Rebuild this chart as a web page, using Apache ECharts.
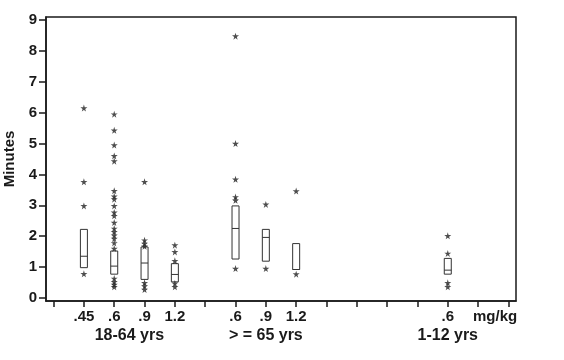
<!DOCTYPE html>
<html>
<head>
<meta charset="utf-8">
<script src="https://cdn.jsdelivr.net/npm/echarts@6/dist/echarts.min.js"></script>
<style>html,body{margin:0;padding:0;background:#fff}#c{width:564px;height:360px}</style>
</head>
<body>
<div id="c"></div>
<script>
// x tick labels at positions 0..15
const tickLabels = ['', '.45', '.6', '.9', '1.2', '', '.6', '.9', '1.2', '', '', '', '', '.6', 'mg/kg', ''];
const groupLabels = ['18-64 yrs', '> = 65 yrs', '1-12 yrs'];
const groupPos = [2.5, 7, 13];
const yTicks = [0,1,2,3,4,5,6,7,8,9];
// boxes
const boxPos = [1, 2, 3, 4, 6, 7, 8, 13];
const q1     = [0.98, 0.77, 0.60, 0.52, 1.26, 1.19, 0.92, 0.77];
const median = [1.35, 1.03, 1.13, 0.76, 2.25, 1.96, 0.92, 0.90];
const q3     = [2.22, 1.52, 1.65, 1.11, 2.98, 2.22, 1.76, 1.28];
// outliers per box
const outliers = [
  [6.15, 3.76, 2.98, 0.78],
  [5.95, 5.43, 4.95, 4.60, 4.43, 3.47, 3.29, 3.20, 2.98, 2.77, 2.66, 2.44, 2.25, 2.14, 2.03, 1.92, 1.78, 1.60, 0.63, 0.52, 0.43, 0.36],
  [3.76, 1.87, 1.76, 1.67, 0.49, 0.38, 0.27],
  [1.71, 1.49, 1.20, 0.47, 0.36],
  [8.48, 5.00, 3.84, 3.27, 3.16, 0.95],
  [3.03, 0.95],
  [3.46, 0.77],
  [2.01, 1.44, 0.49, 0.36]
];

const boxData = boxPos.map((p, i) => [p, q1[i], median[i], q3[i]]);
const starData = [];
boxPos.forEach((p, i) => outliers[i].forEach(v => starData.push([p, v])));

const FONT = 'Liberation Sans';
const INK = '#1a1a1a';
const star = 'path://M50,0 L61,35 L98,35 L68,57 L79,91 L50,70 L21,91 L32,57 L2,35 L39,35 Z';

const chart = echarts.init(document.getElementById('c'), null, {renderer: 'canvas'});
chart.setOption({
  animation: false,
  backgroundColor: '#fff',
  grid: {left: 46, right: 48, top: 17, bottom: 59, containLabel: false, outerBoundsMode: 'none',
    show: true, borderColor: INK, borderWidth: 1.5, backgroundColor: 'transparent'},
  xAxis: [{
    type: 'value', min: -0.25, max: 15.25,
    splitLine: {show: false},
    axisLine: {show: true, onZero: false, lineStyle: {color: INK, width: 1.5}},
    axisTick: {show: true, length: 6, customValues: tickLabels.map((_, i) => i), lineStyle: {color: INK, width: 1.5}},
    axisLabel: {
      customValues: tickLabels.map((_, i) => i).filter(i => tickLabels[i] !== ''),
      formatter: v => { const t = tickLabels[Math.round(v)]; return t === 'mg/kg' ? '{u|' + t + '}' : t; },
      rich: {u: {fontFamily: FONT, fontWeight: 'bold', fontSize: 15, color: INK, padding: [0, 0, 0, 34]}},
      fontFamily: FONT, fontWeight: 'bold', fontSize: 15, color: INK, margin: 8}
  }, {
    type: 'value', min: -0.25, max: 15.25, position: 'bottom',
    splitLine: {show: false}, axisLine: {show: false, onZero: false}, axisTick: {show: false},
    axisLabel: {customValues: groupPos, formatter: v => groupLabels[groupPos.indexOf(v)],
      fontFamily: FONT, fontWeight: 'bold', fontSize: 16, color: INK, margin: 27}
  }],
  yAxis: {
    type: 'value', min: -0.1, max: 9.1,
    name: 'Minutes', nameLocation: 'middle', nameGap: 29,
    nameTextStyle: {fontFamily: FONT, fontWeight: 'bold', fontSize: 15, color: INK},
    splitLine: {show: false},
    axisLine: {show: true, onZero: false, lineStyle: {color: INK, width: 1.5}},
    axisTick: {show: true, length: 7, customValues: yTicks, lineStyle: {color: INK, width: 1.5}},
    axisLabel: {customValues: yTicks, fontFamily: FONT, fontWeight: 'bold', fontSize: 15, color: INK, margin: 9}
  },
  series: [{
    type: 'custom',
    xAxisIndex: 0,
    data: boxData,
    renderItem: function (params, api) {
      const x = api.value(0);
      const pLo = api.coord([x, api.value(1)]);
      const pMed = api.coord([x, api.value(2)]);
      const pHi = api.coord([x, api.value(3)]);
      const w = 7;
      return {type: 'group', children: [
        {type: 'rect', shape: {x: pLo[0] - w / 2, y: pHi[1], width: w, height: pLo[1] - pHi[1]},
          style: {fill: '#fff', stroke: '#333', lineWidth: 1}},
        {type: 'line', shape: {x1: pMed[0] - w / 2, y1: pMed[1], x2: pMed[0] + w / 2, y2: pMed[1]},
          style: {stroke: '#333', lineWidth: 1}}
      ]};
    }
  }, {
    type: 'scatter',
    xAxisIndex: 0,
    symbol: star,
    symbolSize: 7,
    itemStyle: {color: '#222'},
    data: starData
  }]
});
</script>
</body>
</html>
